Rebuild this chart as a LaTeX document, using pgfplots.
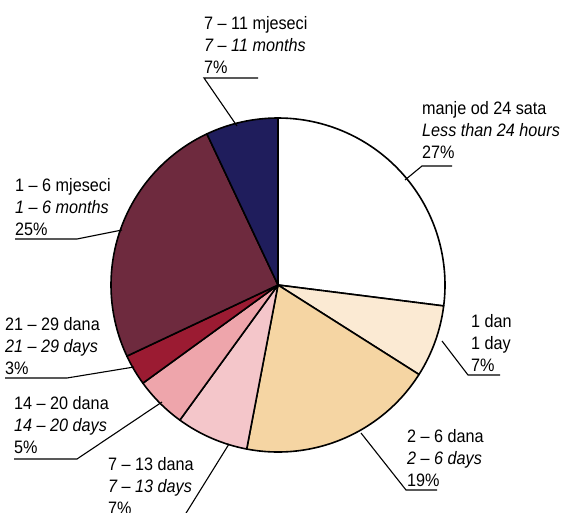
\documentclass[border=0pt]{standalone}
\usepackage{pgfplots}
\usepackage{pgfplotstable}
\usepackage{fontspec}
\pgfplotsset{compat=1.18}
\setmainfont[FakeStretch=0.9]{Liberation Sans}

\definecolor{s1}{HTML}{FFFFFF}
\definecolor{s2}{HTML}{FBEAD3}
\definecolor{s3}{HTML}{F5D5A3}
\definecolor{s4}{HTML}{F4C6CA}
\definecolor{s5}{HTML}{EEA5AB}
\definecolor{s6}{HTML}{9B1B32}
\definecolor{s7}{HTML}{6E2A3E}
\definecolor{s8}{HTML}{1F1D5C}

% share in percent, clockwise from 12 o'clock
\pgfplotstableread{
value colour
27 s1
7  s2
19 s3
7  s4
5  s5
3  s6
25 s7
7  s8
}\piedata

\newcommand{\lf}{\fontsize{18}{22}\selectfont}
% label: x, first baseline, three lines
\newcommand{\lbl}[5]{%
  \node[anchor=base west,inner sep=0pt,font=\lf] at (axis cs:#1,#2) {#3};
  \node[anchor=base west,inner sep=0pt,font=\lf] at (axis cs:#1,#2+22) {#4};
  \node[anchor=base west,inner sep=0pt,font=\lf] at (axis cs:#1,#2+44) {#5};
}

\begin{document}
\begin{tikzpicture}
\begin{axis}[hide axis, x=1pt, y=1pt, y dir=reverse,
  xmin=0, xmax=564, ymin=0, ymax=513, clip=false]

\pgfmathsetmacro\cum{0}
\pgfplotsforeachungrouped \i in {0,...,7}{%
  \pgfplotstablegetelem{\i}{value}\of\piedata \let\v\pgfplotsretval
  \pgfplotstablegetelem{\i}{colour}\of\piedata \let\c\pgfplotsretval
  \pgfmathsetmacro\a{90-3.6*\cum}
  \pgfmathsetmacro\b{90-3.6*(\cum+\v)}
  \edef\slice{\noexpand\filldraw[fill=\c, draw=black, line width=1.6pt, line join=round]
    (axis cs:278,285) -- ++(\a:167pt) arc[start angle=\a, end angle=\b, radius=167pt] -- cycle;}
  \slice
  \pgfmathsetmacro\cum{\cum+\v}
}

% leader lines with underlines
\draw[line width=1.1pt] (axis cs:237,126) -- (axis cs:204,78) -- (axis cs:258,78);
\draw[line width=1.1pt] (axis cs:405,180) -- (axis cs:422,166) -- (axis cs:452,166);
\draw[line width=1.1pt] (axis cs:122,230) -- (axis cs:77,239) -- (axis cs:15,239);
\draw[line width=1.1pt] (axis cs:442,341) -- (axis cs:468,375) -- (axis cs:500,375);
\draw[line width=1.1pt] (axis cs:134,367) -- (axis cs:67,378) -- (axis cs:5,378);
\draw[line width=1.1pt] (axis cs:162,402) -- (axis cs:77,459) -- (axis cs:14,459);
\draw[line width=1.1pt] (axis cs:229,444) -- (axis cs:183,518) -- (axis cs:110,518);
\draw[line width=1.1pt] (axis cs:361,433) -- (axis cs:406,490) -- (axis cs:437,490);

\lbl{204}{30}{7 – 11 mjeseci}{\itshape 7 – 11 months}{7\%}
\lbl{422}{115}{manje od 24 sata}{\itshape Less than 24 hours}{27\%}
\lbl{15}{191}{1 – 6 mjeseci}{\itshape 1 – 6 months}{25\%}
\lbl{471}{327}{1 dan}{1 day}{7\%}
\lbl{5}{330}{21 – 29 dana}{\itshape 21 – 29 days}{3\%}
\lbl{14}{409}{14 – 20 dana}{\itshape 14 – 20 days}{5\%}
\lbl{108}{470}{7 – 13 dana}{\itshape 7 – 13 days}{7\%}
\lbl{407}{442}{2 – 6 dana}{\itshape 2 – 6 days}{19\%}
\end{axis}
\pgfresetboundingbox
\useasboundingbox (current axis.south west) rectangle (current axis.north east);
\end{tikzpicture}
\end{document}
